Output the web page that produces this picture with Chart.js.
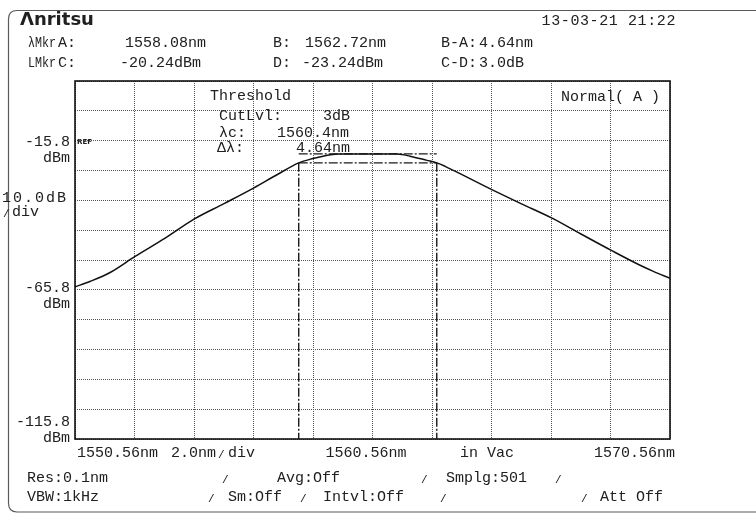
<!DOCTYPE html>
<html>
<head>
<meta charset="utf-8">
<script src="https://cdn.jsdelivr.net/npm/chart.js@4.4.1/dist/chart.umd.min.js"></script>
<style>
  html, body { margin: 0; padding: 0; background: #fff; }
  #wrap { position: relative; width: 756px; height: 515px; }
</style>
</head>
<body>
<div id="wrap"><canvas id="osa"></canvas></div>
<script>
"use strict";

// sweep span and level scale
var span_start = 1550.56;
var span_stop = 1570.56;
var nm_per_div = 2.0;
var ref_level = -15.8;
var db_per_div = 10.0;
var level_top = 4.2;
var level_bottom = -115.8;

// trace A, wavelength (nm) and level (dBm)
var trace_wl = [
  1550.56, 1551.06, 1551.74, 1552.58, 1553.59, 1554.56, 1555.57, 1556.56,
  1557.32, 1558.08, 1558.56, 1558.90, 1559.40, 1560.54, 1561.40, 1561.82,
  1562.39, 1562.72, 1563.00, 1563.77, 1564.57, 1565.55, 1566.58, 1567.55,
  1568.59, 1569.52, 1570.00, 1570.56
];
var trace_dbm = [
  -64.8, -63.0, -60.0, -54.6, -48.5, -42.1, -36.9, -31.7,
  -27.4, -23.24, -21.8, -21.0, -20.3, -20.24, -20.3, -21.0,
  -22.4, -23.24, -24.4, -28.2, -32.2, -36.9, -41.7, -47.0,
  -52.6, -57.4, -59.6, -61.9
];

// markers: A/B wavelength (nm), C/D level (dBm)
var marker_wl = [1558.08, 1562.72];
var marker_dbm = [-20.24, -23.24];
var cut_level_db = 3;

// labelled grid positions
var y_tick_labels = [-15.8, -65.8, -115.8];
var x_tick_labels = [1550.56, 1560.56, 1570.56];

var ink = "#202020";
var mono = '"Liberation Mono", "DejaVu Sans Mono", monospace';
var dash_dot = [9, 2, 2, 2];

function xy(wl, lv) {
  return wl.map(function(w, i) { return { x: w, y: lv[i] }; });
}

function marker_lines() {
  var a = marker_wl[0], b = marker_wl[1];
  var c = marker_dbm[0], d = marker_dbm[1];
  var segs = [
    [{ x: a, y: d }, { x: a, y: level_bottom }],
    [{ x: b, y: d }, { x: b, y: level_bottom }],
    [{ x: a, y: d }, { x: b, y: d }],
    [{ x: a, y: c }, { x: b, y: c }]
  ];
  return segs.map(function(s) {
    return {
      data: s,
      borderColor: "#1a1a1a",
      borderWidth: 1.4,
      borderDash: dash_dot,
      pointRadius: 0,
      fill: false
    };
  });
}

function put(ctx, s, x, y, align, font, max_w) {
  ctx.font = font || ("15px " + mono);
  ctx.textAlign = align || "left";
  if (max_w) ctx.fillText(s, x, y, max_w);
  else ctx.fillText(s, x, y);
}

// short separator stroke used on the status lines
function sep(ctx, x, y) {
  put(ctx, "/", x, y + 2, "left", "11px " + mono);
}

var screen_text = {
  id: "screen_text",
  beforeDraw: function(chart) {
    var ctx = chart.ctx;
    ctx.save();
    // outer bezel
    ctx.strokeStyle = "#5a5a5a";
    ctx.lineWidth = 1.2;
    ctx.beginPath();
    ctx.moveTo(780, 10.5);
    ctx.lineTo(17, 10.5);
    ctx.quadraticCurveTo(8.5, 10.5, 8.5, 19);
    ctx.lineTo(8.5, 503);
    ctx.quadraticCurveTo(8.5, 512, 17, 512);
    ctx.lineTo(780, 512);
    ctx.stroke();
    ctx.restore();
  },
  afterDraw: function(chart) {
    var ctx = chart.ctx;
    var xs = chart.scales.x, ys = chart.scales.y;
    var area = chart.chartArea;
    var a = marker_wl[0], b = marker_wl[1];
    var c = marker_dbm[0], d = marker_dbm[1];

    ctx.save();
    // graticule frame
    ctx.strokeStyle = "#111";
    ctx.lineWidth = 1.6;
    ctx.strokeRect(area.left, area.top, area.right - area.left, area.bottom - area.top);

    ctx.fillStyle = ink;
    ctx.textBaseline = "middle";

    put(ctx, "\u039bnritsu", 20, 20, "left", "bold 18px \"DejaVu Sans\"", 75);
    ctx.letterSpacing = "0.6px";
    put(ctx, "13-03-21 21:22", 676, 21, "right");
    ctx.letterSpacing = "0px";

    put(ctx, "\u03bbMkr", 28, 43, "left", null, 28);
    put(ctx, "A:", 58, 43);
    put(ctx, a.toFixed(2) + "nm", 125, 43);
    put(ctx, "B:", 273, 43);
    put(ctx, b.toFixed(2) + "nm", 305, 43);
    put(ctx, "B-A:", 441, 43);
    put(ctx, (b - a).toFixed(2) + "nm", 479, 43);

    put(ctx, "LMkr", 28, 63, "left", null, 28);
    put(ctx, "C:", 58, 63);
    put(ctx, c.toFixed(2) + "dBm", 120, 63);
    put(ctx, "D:", 273, 63);
    put(ctx, d.toFixed(2) + "dBm", 302, 63);
    put(ctx, "C-D:", 441, 63);
    put(ctx, (c - d).toFixed(1) + "dB", 479, 63);

    // threshold analysis box
    put(ctx, "Threshold", 210, 96);
    put(ctx, "CutLvl:", 219, 116);
    put(ctx, cut_level_db + "dB", 323, 116);
    put(ctx, "\u03bbc:", 219, 133);
    put(ctx, ((a + b) / 2).toFixed(1) + "nm", 277, 133);
    put(ctx, "\u0394\u03bb:", 217, 148);
    put(ctx, (b - a).toFixed(2) + "nm", 296, 148);
    put(ctx, "Normal( A )", 561, 97);

    // level labels
    y_tick_labels.forEach(function(v, i) {
      var py = ys.getPixelForValue(v);
      if (i === y_tick_labels.length - 1) py -= 17;
      else if (i > 0) py -= 2;
      else py += 1;
      put(ctx, v.toFixed(1), 70, py, "right");
      put(ctx, "dBm", 70, py + 16, "right");
    });
    put(ctx, "REF", area.left + 2, ys.getPixelForValue(ref_level) + 2, "left", "bold 7px \"DejaVu Sans\"");
    ctx.letterSpacing = "2px";
    put(ctx, db_per_div.toFixed(1) + "dB", 2, 198);
    ctx.letterSpacing = "0px";
    sep(ctx, 3, 212);
    put(ctx, "div", 12, 212);

    // wavelength labels
    var x0 = xs.getPixelForValue(x_tick_labels[0]);
    var x1 = xs.getPixelForValue(x_tick_labels[1]);
    var x2 = xs.getPixelForValue(x_tick_labels[2]);
    put(ctx, x_tick_labels[0].toFixed(2) + "nm", x0 + 2, 453);
    put(ctx, nm_per_div.toFixed(1) + "nm", 171, 453);
    sep(ctx, 218, 453);
    put(ctx, "div", 228, 453);
    put(ctx, x_tick_labels[1].toFixed(2) + "nm", x1 - 47, 453);
    put(ctx, "in Vac", 460, 453);
    put(ctx, x_tick_labels[2].toFixed(2) + "nm", x2 + 5, 453, "right");

    // measurement conditions
    put(ctx, "Res:0.1nm", 27, 478);
    sep(ctx, 222, 478);
    put(ctx, "Avg:Off", 277, 478);
    sep(ctx, 421, 478);
    put(ctx, "Smplg:501", 446, 478);
    sep(ctx, 555, 478);

    put(ctx, "VBW:1kHz", 27, 497);
    sep(ctx, 208, 497);
    put(ctx, "Sm:Off", 228, 497);
    sep(ctx, 300, 497);
    put(ctx, "Intvl:Off", 323, 497);
    sep(ctx, 440, 497);
    sep(ctx, 581, 497);
    put(ctx, "Att Off", 600, 497);
    ctx.restore();
  }
};

function grid_axis(min, max, step) {
  return {
    type: "linear",
    min: min,
    max: max,
    ticks: { display: false, stepSize: step },
    grid: { color: "#555", lineWidth: 1, drawTicks: false, tickLength: 0 },
    border: { display: false, dash: [1, 1] },
    afterFit: function(s) {
      if (s.isHorizontal()) s.height = 0; else s.width = 0;
    }
  };
}

function init_chart(canvas) {
  var datasets = [{
    data: xy(trace_wl, trace_dbm),
    borderColor: "#111",
    borderWidth: 1.5,
    pointRadius: 0,
    fill: false,
    cubicInterpolationMode: "monotone"
  }].concat(marker_lines());

  return new Chart(canvas, {
    type: "line",
    data: { datasets: datasets },
    options: {
      responsive: true,
      maintainAspectRatio: false,
      animation: false,
      layout: { padding: { left: 75, right: 86, top: 81, bottom: 76 } },
      plugins: { legend: { display: false }, tooltip: { enabled: false } },
      scales: {
        x: grid_axis(span_start, span_stop, nm_per_div),
        y: grid_axis(level_bottom, level_top, db_per_div)
      }
    },
    plugins: [screen_text]
  });
}

init_chart(document.getElementById("osa"));
</script>
</body>
</html>
